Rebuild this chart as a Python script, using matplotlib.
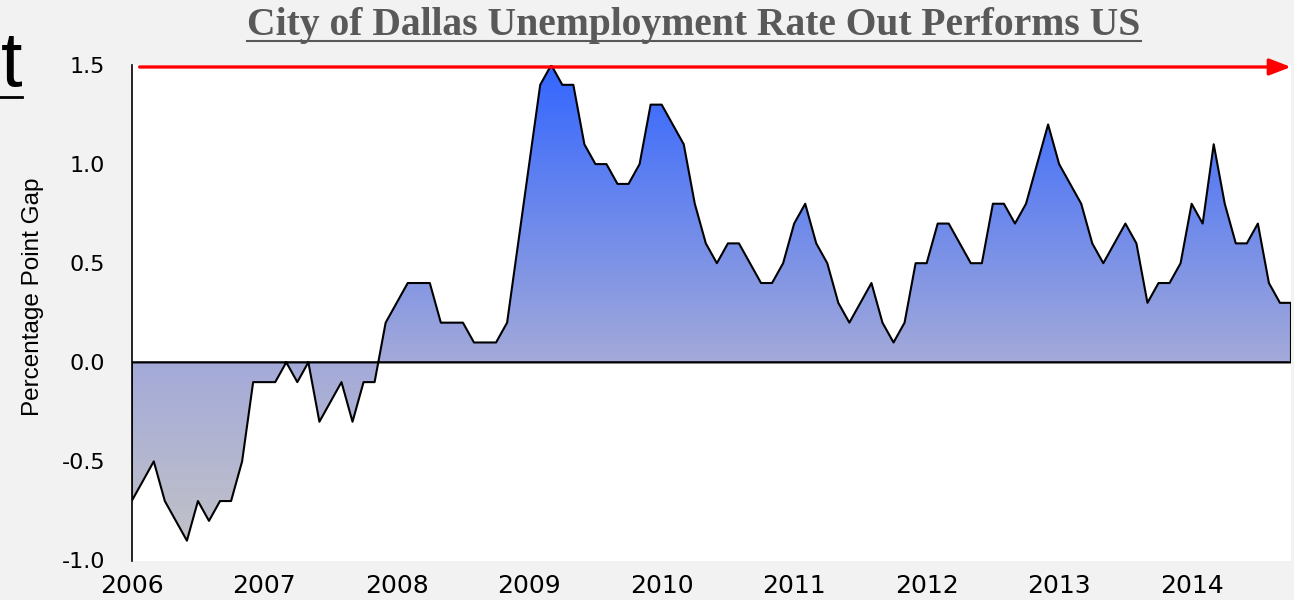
import numpy as np
import matplotlib
matplotlib.use("Agg")
import matplotlib.pyplot as plt
from matplotlib.colors import LinearSegmentedColormap
from matplotlib.lines import Line2D

# ---------------------------------------------------------------------------
# Data: monthly gap (US rate minus Dallas rate), percentage points
# ---------------------------------------------------------------------------
gap_2006 = [-0.7, -0.6, -0.5, -0.7, -0.8, -0.9, -0.7, -0.8, -0.7, -0.7, -0.5, -0.1]
gap_2007 = [-0.1, -0.1, 0.0, -0.1, 0.0, -0.3, -0.2, -0.1, -0.3, -0.1, -0.1, 0.2]
gap_2008 = [0.3, 0.4, 0.4, 0.4, 0.2, 0.2, 0.2, 0.1, 0.1, 0.1, 0.2, 0.6]
gap_2009 = [1.0, 1.4, 1.5, 1.4, 1.4, 1.1, 1.0, 1.0, 0.9, 0.9, 1.0, 1.3]
gap_2010 = [1.3, 1.2, 1.1, 0.8, 0.6, 0.5, 0.6, 0.6, 0.5, 0.4, 0.4, 0.5]
gap_2011 = [0.7, 0.8, 0.6, 0.5, 0.3, 0.2, 0.3, 0.4, 0.2, 0.1, 0.2, 0.5]
gap_2012 = [0.5, 0.7, 0.7, 0.6, 0.5, 0.5, 0.8, 0.8, 0.7, 0.8, 1.0, 1.2]
gap_2013 = [1.0, 0.9, 0.8, 0.6, 0.5, 0.6, 0.7, 0.6, 0.3, 0.4, 0.4, 0.5]
gap_2014 = [0.8, 0.7, 1.1, 0.8, 0.6, 0.6, 0.7, 0.4, 0.3, 0.3]

start_year = 2006
year_ticks = [2006, 2007, 2008, 2009, 2010, 2011, 2012, 2013, 2014]
y_ticks = [-1.0, -0.5, 0.0, 0.5, 1.0, 1.5]

title = "City of Dallas Unemployment Rate Out Performs US"
ylabel = "Percentage Point Gap"

gap = np.array(gap_2006 + gap_2007 + gap_2008 + gap_2009 + gap_2010
               + gap_2011 + gap_2012 + gap_2013 + gap_2014)
months = start_year + np.arange(len(gap)) / 12.0

# ---------------------------------------------------------------------------
# Figure
# ---------------------------------------------------------------------------
W, H = 1294, 600
fig = plt.figure(figsize=(W / 100, H / 100), dpi=100, facecolor="#F2F2F2")
ax = fig.add_axes([131.7 / W, 1 - 560.5 / H, (1291 - 131.7) / W, (560.5 - 65) / H])
ax.set_facecolor("white")

x0, x1 = months[0], months[-1]
ax.set_xlim(x0, x1)
ax.set_ylim(-1.0, 1.5)

# gradient fill clipped to the area under the curve
cmap = LinearSegmentedColormap.from_list(
    "gap", [(0.0, "#C4C4C6"), (0.4, "#A4AAD9"), (1.0, "#3366FF")])
grad = np.linspace(0, 1, 256).reshape(-1, 1)
im = ax.imshow(grad, extent=[x0, x1, -1.0, 1.5], origin="lower",
               aspect="auto", cmap=cmap, zorder=1)
area = ax.fill_between(months, gap, 0, facecolor="none",
                       edgecolor="black", lw=1.5, zorder=3)
im.set_clip_path(area.get_paths()[0], transform=ax.transData)

ax.axhline(0, color="black", lw=1.0, zorder=2)

# red arrow along the 1.5 level
ax.annotate("", xy=(x1, 1.49), xytext=(2006.06, 1.49),
            arrowprops=dict(arrowstyle="-|>,head_length=1.3,head_width=0.5",
                            color="#FF0000", lw=2.4, shrinkA=0, shrinkB=0),
            annotation_clip=False, zorder=5)

for side in ["top", "right", "bottom"]:
    ax.spines[side].set_visible(False)
ax.spines["left"].set_color("black")
ax.spines["left"].set_linewidth(1.2)

ax.set_xticks(year_ticks)
ax.set_xticklabels([str(y) for y in year_ticks])
ax.set_yticks(y_ticks)
ax.set_yticklabels([f"{v:.1f}" for v in y_ticks])
ax.tick_params(axis="x", length=0, pad=10, labelsize=18, colors="black")
ax.tick_params(axis="y", length=0, pad=19, labelsize=16, colors="black")

fig.text(33 / W, 1 - 297 / H, ylabel, rotation=90, ha="center", va="center",
         fontsize=17.5, family="Liberation Sans", color="black")

# title with underline
t = fig.text(694 / W, 1 - 34.5 / H, title, ha="center", va="baseline",
             fontsize=28.5, family="Liberation Serif", fontweight="bold",
             color="#595959")
fig.canvas.draw()
bb = t.get_window_extent()
fig.add_artist(Line2D([bb.x0 / W, bb.x1 / W], [1 - 40.7 / H] * 2,
                      color="#595959", lw=1.5, transform=fig.transFigure))

# stray slide letter on the left edge
fig.text(1 / W, 1 - 86 / H, "t", ha="left", va="baseline",
         fontsize=56, family="Liberation Sans", color="black")
fig.add_artist(Line2D([0, 22 / W], [1 - 96.5 / H] * 2, color="black",
                      lw=2.0, transform=fig.transFigure))

fig.savefig("out.png", dpi=100, facecolor=fig.get_facecolor())
